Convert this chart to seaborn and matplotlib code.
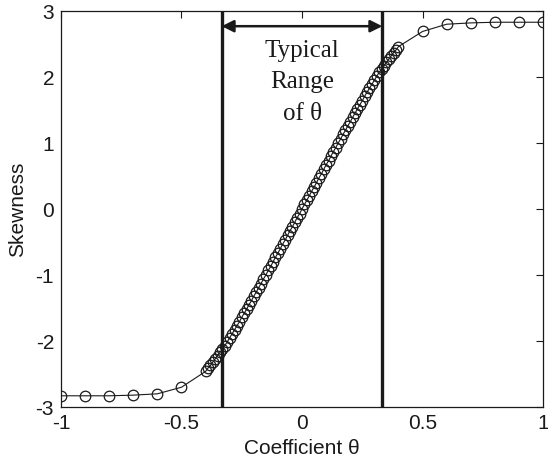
import numpy as np
import pandas as pd
import matplotlib
matplotlib.use("Agg")
import matplotlib.pyplot as plt
import seaborn as sns

# ================= DATA =================
theta_left = [-1.0, -0.9, -0.8, -0.7, -0.6, -0.5]
skew_left = [-2.83, -2.83, -2.83, -2.82, -2.80, -2.70]

theta_mid = np.round(np.arange(-0.40, 0.401, 0.01), 2)
skew_mid = [
    -2.46, -2.41, -2.37, -2.32, -2.27, -2.22, -2.17, -2.12, -2.07, -2.01,
    -1.95, -1.89, -1.83, -1.77, -1.71, -1.64, -1.58, -1.52, -1.45, -1.39,
    -1.32, -1.26, -1.19, -1.13, -1.06, -1.00, -0.93, -0.87, -0.80, -0.73,
    -0.67, -0.60, -0.53, -0.47, -0.40, -0.33, -0.27, -0.20, -0.13, -0.07,
    0.00,
    0.07, 0.13, 0.20, 0.27, 0.33, 0.40, 0.47, 0.53, 0.60, 0.67,
    0.73, 0.80, 0.87, 0.93, 1.00, 1.06, 1.13, 1.19, 1.26, 1.32,
    1.39, 1.45, 1.52, 1.58, 1.64, 1.71, 1.77, 1.83, 1.89, 1.95,
    2.01, 2.07, 2.12, 2.17, 2.22, 2.27, 2.32, 2.37, 2.41, 2.46,
]

theta_right = [0.5, 0.6, 0.7, 0.8, 0.9, 1.0]
skew_right = [2.69, 2.80, 2.82, 2.83, 2.83, 2.83]

range_bounds = [-1 / 3, 1 / 3]
x_ticks = [-1, -0.5, 0, 0.5, 1]
x_ticklabels = ["-1", "-0.5", "0", "0.5", "1"]
y_ticks = [-3, -2, -1, 0, 1, 2, 3]

df = pd.DataFrame({
    "theta": list(theta_left) + list(theta_mid) + list(theta_right),
    "skew": skew_left + skew_mid + skew_right,
})

# ================= PLOT =================
sns.set_style("white")
plt.rcParams["font.family"] = ["Liberation Sans", "DejaVu Sans"]
plt.rcParams["axes.unicode_minus"] = False

ink = "#1a1a1a"
fig = plt.figure(figsize=(5.48, 4.61), dpi=100)
ax = fig.add_axes([0.1113, 0.1171, 0.8796, 0.859])

sns.lineplot(data=df, x="theta", y="skew", ax=ax, sort=False, color=ink,
             linewidth=0.8, marker="o", markersize=7.6,
             markerfacecolor="none", markeredgecolor=ink, markeredgewidth=0.9)

for b in range_bounds:
    ax.axvline(b, color=ink, linewidth=2.4)

ax.annotate("", xy=(range_bounds[1], 2.77), xytext=(range_bounds[0], 2.77),
            arrowprops=dict(arrowstyle="<|-|>", color=ink, lw=1.8,
                            mutation_scale=18, shrinkA=0, shrinkB=0))
ax.text(0.0, 1.92, "Typical\nRange\nof \u03b8", ha="center", va="center",
        fontsize=18, family=["Liberation Serif", "DejaVu Serif"], color=ink,
        linespacing=1.55)

ax.set_xlim(-1, 1)
ax.set_ylim(-3, 3)
ax.set_xticks(x_ticks)
ax.set_xticklabels(x_ticklabels)
ax.set_yticks(y_ticks)
ax.set_xlabel("Coefficient \u03b8", fontsize=15, color=ink, labelpad=4)
ax.set_ylabel("Skewness", fontsize=15, color=ink, labelpad=6)
ax.tick_params(direction="in", length=5, width=0.8, top=True, right=True,
               labelsize=15, colors=ink, pad=5)
for s in ax.spines.values():
    s.set_color(ink)
    s.set_linewidth(0.9)

fig.savefig("out.png", dpi=100)
